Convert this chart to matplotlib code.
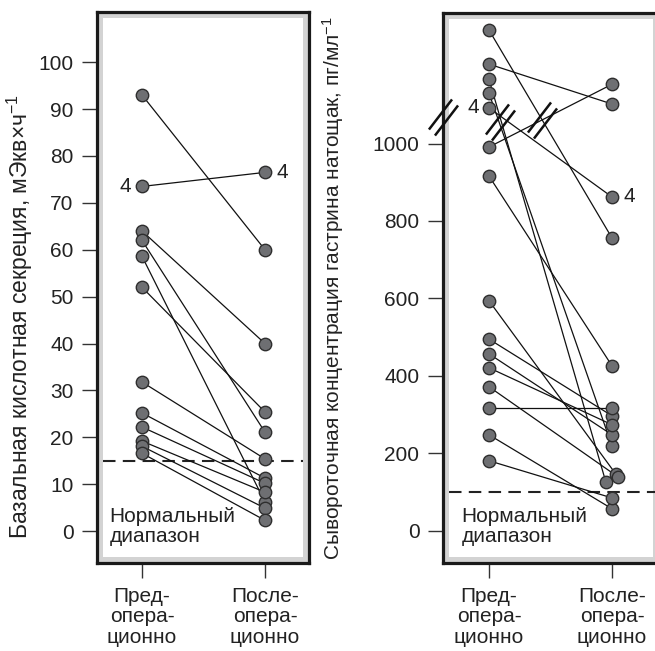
import numpy as np
import matplotlib.pyplot as plt
from matplotlib.patches import Rectangle
from matplotlib.path import Path

plt.rcParams['font.family'] = ['Liberation Sans', 'DejaVu Sans']
plt.rcParams['mathtext.fontset'] = 'custom'
plt.rcParams['mathtext.rm'] = 'Liberation Sans'
plt.rcParams['mathtext.it'] = 'Liberation Sans'

# Базальная кислотная секреция, мЭкв/ч
pre_acid = [93, 73.5, 64, 62, 58.6, 52, 31.8, 25.2, 22.2, 19.2, 18.1, 16.6]
post_acid = [60, 76.5, 40, 21.1, 6.2, 25.4, 15.4, 11.3, 10.2, 8.3, 4.9, 2.3]
acid_normal = 15
acid_ticks = list(range(0, 101, 10))

# Гастрин натощак, пг/мл
pre_gastrin = [1293, 1205, 1166, 1130, 1092, 991, 916, 594, 495, 457, 421, 372, 317, 248, 181]
post_gastrin = [756, 1102, 126, 219, 862, 1153, 426, 147, 297, 248, 274, 139, 317, 57, 85]
gastrin_normal = 100
gastrin_ticks = [0, 200, 400, 600, 800, 1000]

groups = ["Пред-\nопера-\nционно", "После-\nопера-\nционно"]
normal_text = "Нормальный\nдиапазон"

# небольшой сдвиг перекрывающихся точек по x (после операции, гастрин)
post_gastrin_x = [1, 1, 0.95, 1, 1, 1, 1, 1.03, 1, 1, 1, 1.05, 1, 1, 1]

FS = 15
W, H = 655, 651
fig = plt.figure(figsize=(W / 100, H / 100), dpi=100)

def px_axes(x0, x1, y0, y1):
    return fig.add_axes([x0 / W, 1 - y1 / H, (x1 - x0) / W, (y1 - y0) / H])

ax1 = px_axes(97, 309, 12, 563)
ax2 = px_axes(443, 659, 13, 563)

# маркер разрыва оси: две параллельные косые черты
verts = [(-14.5, -12), (8.5, 18), (-8.5, -18), (14.5, 12)]
codes = [Path.MOVETO, Path.LINETO, Path.MOVETO, Path.LINETO]
break_marker = Path(verts, codes)


def style_axes(ax, ticks, ylim, xlim):
    ax.set_facecolor('#d3d3d3')
    ax.add_patch(Rectangle((0.028, 0.011), 0.944, 0.978, transform=ax.transAxes,
                           facecolor='white', edgecolor='none', zorder=0))
    for s in ax.spines.values():
        s.set_linewidth(2.3)
        s.set_color('#1a1a1a')
    ax.set_ylim(*ylim)
    ax.set_xlim(*xlim)
    ax.set_yticks(ticks)
    ax.set_xticks([0, 1])
    ax.set_xticklabels(groups, linespacing=1.12)
    ax.tick_params(axis='both', length=11, width=1, color='#333333', labelsize=FS,
                   colors='#222222')
    ax.tick_params(axis='y', pad=6)
    ax.tick_params(axis='x', pad=6)


def draw_pairs(ax, pre, post, post_x=None):
    if post_x is None:
        post_x = [1] * len(post)
    for a, b, xb in zip(pre, post, post_x):
        ax.plot([0, xb], [a, b], color='#111111', lw=0.9, zorder=2)
    ax.scatter([0] * len(pre), pre, s=80, color='#6e6f72', edgecolor='#2e2e2e',
               linewidth=1, zorder=3)
    ax.scatter(post_x, post, s=80, color='#6e6f72', edgecolor='#2e2e2e',
               linewidth=1, zorder=3)


# левая панель
style_axes(ax1, acid_ticks, (-6.8, 110.7), (-0.366, 1.358))
draw_pairs(ax1, pre_acid, post_acid)
ax1.axhline(acid_normal, xmin=0.03, xmax=0.97, color='#222222', lw=1.5,
            dashes=(6, 3.5), zorder=1)
ax1.text(0.06, 0.03, normal_text, transform=ax1.transAxes, fontsize=FS,
         color='#222222', va='bottom', ha='left', linespacing=1.1)
ax1.annotate("4", (0, pre_acid[1]), xytext=(-8, 0), textcoords='offset points',
             ha='right', va='center', fontsize=FS, color='#222222')
ax1.annotate("4", (1, post_acid[1]), xytext=(8, 0), textcoords='offset points',
             ha='left', va='center', fontsize=FS, color='#222222')

# правая панель
style_axes(ax2, gastrin_ticks, (-83, 1337), (-0.374, 1.382))
draw_pairs(ax2, pre_gastrin, post_gastrin, post_gastrin_x)
ax2.axhline(gastrin_normal, xmin=0.03, xmax=1, color='#222222', lw=1.5,
            dashes=(6, 3.5), zorder=1)
ax2.text(0.085, 0.03, normal_text, transform=ax2.transAxes, fontsize=FS,
         color='#222222', va='bottom', ha='left', linespacing=1.1)
ax2.annotate("4", (0, pre_gastrin[4]), xytext=(-7, 0), textcoords='offset points',
             ha='right', va='center', fontsize=FS, color='#222222')
ax2.annotate("4", (1, post_gastrin[4]), xytext=(8, 0), textcoords='offset points',
             ha='left', va='center', fontsize=FS, color='#222222')

# разрывы шкалы
ax2.plot([-0.374, 0.09, 0.43], [1068, 1055, 1060], linestyle='none',
         marker=break_marker, markersize=26, markerfacecolor='none',
         markeredgecolor='#111111', markeredgewidth=1.8, clip_on=False, zorder=5)

fig.text(20 / W, 1 - 316 / H, "Базальная кислотная секреция, мЭкв×ч$^{-1}$",
         rotation=90, ha='center', va='center', fontsize=16.5, color='#222222')
fig.text(333 / W, 1 - 288 / H, "Сывороточная концентрация гастрина натощак, пг/мл$^{-1}$",
         rotation=90, ha='center', va='center', fontsize=FS, color='#222222')

fig.savefig("out.png", dpi=100)
